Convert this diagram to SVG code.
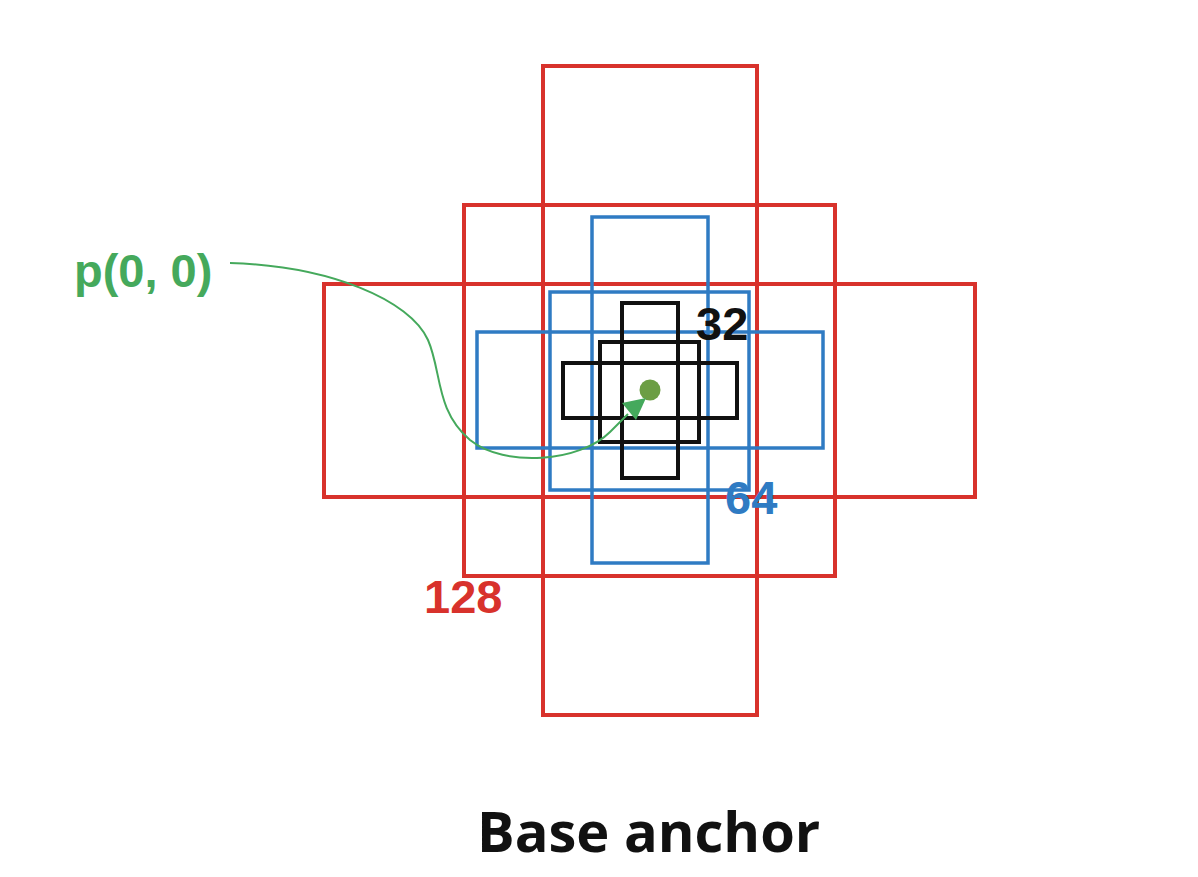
<svg xmlns="http://www.w3.org/2000/svg" width="1198" height="877" viewBox="0 0 1198 877">
<style>
.r{fill:none;stroke:#d8322c;stroke-width:4}
.b{fill:none;stroke:#2f7bc3;stroke-width:3.5}
.k{fill:none;stroke:#111;stroke-width:4}
.n{font-family:"Liberation Sans",Arial,sans-serif;font-weight:bold;font-size:47px}
</style>
<rect width="1198" height="877" fill="#fff"/>
<g id="anchors-128">
<rect class="r" x="543" y="66" width="214" height="649"/>
<rect class="r" x="464" y="205" width="371" height="371"/>
<rect class="r" x="324" y="284" width="651" height="213"/>
</g>
<g id="anchors-64">
<rect class="b" x="592" y="217" width="116" height="346"/>
<rect class="b" x="550" y="292" width="199" height="198"/>
<rect class="b" x="477" y="332" width="346" height="116"/>
</g>
<g id="anchors-32">
<rect class="k" x="622" y="303" width="56" height="175"/>
<rect class="k" x="600" y="342" width="99" height="100"/>
<rect class="k" x="563" y="363" width="174" height="55"/>
</g>
<g id="center">
<circle cx="650" cy="390" r="10.5" fill="#6c9e44"/>
</g>
<g id="connectors">
<path d="M230,263 C330,266 410,300 428,340 C442,372 435,410 470,440 C505,468 580,462 610,432 L628,414" fill="none" stroke="#45a95c" stroke-width="2"/>
<path d="M622,403 L646,398 L636,420 z" fill="#45a95c"/>
</g>
<g id="labels">
<text class="n" x="74" y="287" fill="#45a95c">p(0, 0)</text>
<text class="n" x="696" y="340" fill="#111">32</text>
<text class="n" x="725" y="514" fill="#2f7bc3">64</text>
<text class="n" x="424" y="613" fill="#d8322c">128</text>
<text x="477" y="852" font-family="'Open Sans',sans-serif" font-weight="bold" font-size="56" fill="#111">Base anchor</text>
</g>
</svg>
